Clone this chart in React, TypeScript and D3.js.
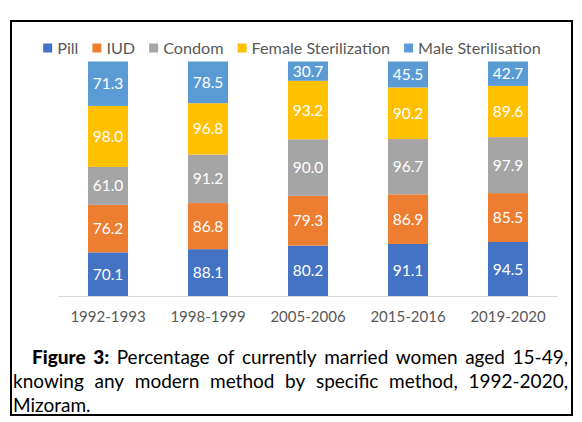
import React, { useEffect, useRef } from "react";
import * as d3 from "d3";

const categories = ["1992-1993", "1998-1999", "2005-2006", "2015-2016", "2019-2020"];
const seriesNames = ["Pill", "IUD", "Condom", "Female Sterilization", "Male Sterilisation"];
const pill = [70.1, 88.1, 80.2, 91.1, 94.5];
const iud = [76.2, 86.8, 79.3, 86.9, 85.5];
const condom = [61.0, 91.2, 90.0, 96.7, 97.9];
const femaleSter = [98.0, 96.8, 93.2, 90.2, 89.6];
const maleSter = [71.3, 78.5, 30.7, 45.5, 42.7];
const colors = ["#4472C4", "#ED7D31", "#A5A5A5", "#FFC000", "#5B9BD5"];

const captionLines = [
  [{ t: "Figure", b: true }, { t: "3:", b: true }, ..."Percentage of currently married women aged 15-49,".split(" ").map((t) => ({ t, b: false }))],
  "knowing any modern method by specific method, 1992-2020,".split(" ").map((t) => ({ t, b: false })),
  [{ t: "Mizoram.", b: false }],
];

const W = 582;
const H = 422;
const FONT = "Lato, 'Open Sans', sans-serif";

export default function App() {
  const ref = useRef<SVGSVGElement | null>(null);

  useEffect(() => {
    const svg = d3.select(ref.current);
    svg.selectAll("*").remove();

    svg.append("rect").attr("width", W).attr("height", H).attr("fill", "#fff");
    svg
      .append("rect")
      .attr("x", 11)
      .attr("y", 21)
      .attr("width", 561)
      .attr("height", 394)
      .attr("fill", "none")
      .attr("stroke", "#000")
      .attr("stroke-width", 2);

    const rows = categories.map((c, i) => ({
      cat: c,
      [seriesNames[0]]: pill[i],
      [seriesNames[1]]: iud[i],
      [seriesNames[2]]: condom[i],
      [seriesNames[3]]: femaleSter[i],
      [seriesNames[4]]: maleSter[i],
    }));

    const x = d3.scaleBand<string>().domain(categories).range([58, 558]).paddingInner(0.6).paddingOuter(0.3);
    const y = d3.scaleLinear().domain([0, 1]).range([296, 61.5]);

    const stack = d3
      .stack<any>()
      .keys(seriesNames)
      .offset(d3.stackOffsetExpand);
    const series = stack(rows);

    // axis line
    svg
      .append("line")
      .attr("x1", x.range()[0])
      .attr("x2", x.range()[1])
      .attr("y1", y(0) + 0.5)
      .attr("y2", y(0) + 0.5)
      .attr("stroke", "#D9D9D9")
      .attr("stroke-width", 1);

    series.forEach((s, si) => {
      const g = svg.append("g");
      g.selectAll("rect")
        .data(s)
        .join("rect")
        .attr("x", (d: any) => x(d.data.cat)!)
        .attr("width", x.bandwidth())
        .attr("y", (d: any) => y(d[1]))
        .attr("height", (d: any) => y(d[0]) - y(d[1]))
        .attr("fill", colors[si]);
      g.selectAll("text")
        .data(s)
        .join("text")
        .attr("x", (d: any) => x(d.data.cat)! + x.bandwidth() / 2)
        .attr("y", (d: any) => (y(d[0]) + y(d[1])) / 2)
        .attr("dy", "0.36em")
        .attr("text-anchor", "middle")
        .attr("fill", "#fff")
        .attr("font-family", FONT)
        .attr("font-size", 15.5)
        .text((d: any) => (d.data[seriesNames[si]] as number).toFixed(1));
    });

    // category labels
    svg
      .append("g")
      .selectAll("text")
      .data(categories)
      .join("text")
      .attr("x", (d) => x(d)! + x.bandwidth() / 2)
      .attr("y", 317)
      .attr("dy", "0.36em")
      .attr("text-anchor", "middle")
      .attr("fill", "#595959")
      .attr("font-family", FONT)
      .attr("font-size", 15)
      .text((d) => d);

    // legend
    const lg = svg.append("g");
    const sq = 9;
    const gapSqText = 5;
    const gapItems = 14;
    const items = seriesNames.map((n, i) => {
      const t = lg
        .append("text")
        .attr("y", 48)
        .attr("dy", "0.36em")
        .attr("fill", "#595959")
        .attr("font-family", FONT)
        .attr("font-size", 16.2)
        .text(n);
      const w = (t.node() as SVGTextElement).getComputedTextLength();
      const r = lg.append("rect").attr("width", sq).attr("height", sq).attr("y", 48 - sq / 2).attr("fill", colors[i]);
      return { t, r, w };
    });
    const total = items.reduce((a, it) => a + sq + gapSqText + it.w, 0) + gapItems * (items.length - 1);
    let cx = 292 - total / 2;
    items.forEach((it) => {
      it.r.attr("x", cx);
      it.t.attr("x", cx + sq + gapSqText);
      cx += sq + gapSqText + it.w + gapItems;
    });

    // caption (justified)
    const cg = svg.append("g");
    const lineSpecs = [
      { left: 32, right: 568, y: 364, justify: true },
      { left: 13, right: 568, y: 388, justify: true },
      { left: 13, right: 568, y: 412, justify: false },
    ];
    captionLines.forEach((words, li) => {
      const spec = lineSpecs[li];
      const nodes = words.map((w) =>
        cg
          .append("text")
          .attr("y", spec.y)
          .attr("fill", "#000")
          .attr("font-family", FONT)
          .attr("font-size", 19)
          .attr("font-weight", w.b ? "900" : "normal")
          .text(w.t)
      );
      const widths = nodes.map((n) => (n.node() as SVGTextElement).getComputedTextLength());
      const sum = widths.reduce((a, b) => a + b, 0);
      const gap = spec.justify && nodes.length > 1 ? (spec.right - spec.left - sum) / (nodes.length - 1) : 5;
      let px = spec.left;
      nodes.forEach((n, i) => {
        n.attr("x", px);
        px += widths[i] + gap;
      });
    });
  }, []);

  return (
    <svg
      ref={ref}
      width={W}
      height={H}
      style={{ position: "absolute", left: 0, top: 0, display: "block" }}
    />
  );
}
